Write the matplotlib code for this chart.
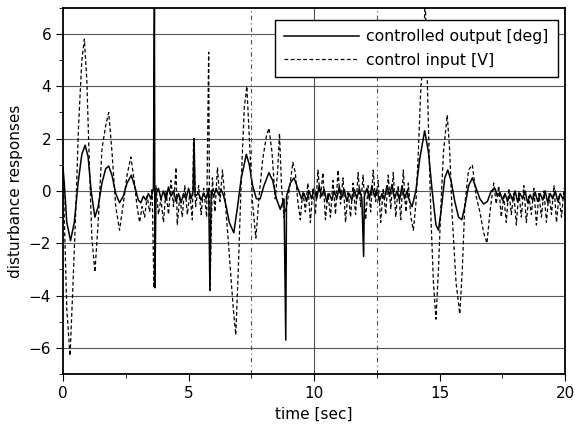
import numpy as np
import matplotlib
matplotlib.use("Agg")
import matplotlib.pyplot as plt
from matplotlib.ticker import MultipleLocator

# --- data ---
# controlled output [deg] (solid)
out_t = [0.0, 0.05, 0.15, 0.3, 0.45, 0.6, 0.75, 0.88, 1.0, 1.12, 1.27, 1.4, 1.55, 1.7, 1.82,
         1.95, 2.1, 2.25, 2.4, 2.55, 2.72, 2.85, 3.0, 3.1, 3.2, 3.3, 3.4, 3.5, 3.6, 3.64,
         3.66, 3.7, 3.8, 3.9, 4.0, 4.1, 4.2, 4.3, 4.4, 4.5, 4.6, 4.7, 4.8, 4.9, 5.0,
         5.1, 5.18, 5.22, 5.26, 5.4, 5.5, 5.6, 5.7, 5.8, 5.85, 5.9, 6.0, 6.1, 6.2, 6.3,
         6.4, 6.5, 6.62, 6.8, 6.95, 7.1, 7.3, 7.42, 7.55, 7.7, 7.85, 8.0, 8.2, 8.35, 8.5,
         8.65, 8.8, 8.87, 8.9, 9.05, 9.2, 9.35, 9.5, 9.6, 9.7, 9.8, 9.9, 10.0, 10.1, 10.2,
         10.3, 10.4, 10.5, 10.6, 10.7, 10.8, 10.9, 11.0, 11.1, 11.2, 11.3, 11.4, 11.5, 11.6, 11.7,
         11.8, 11.9, 11.97, 12.0, 12.1, 12.2, 12.3, 12.4, 12.5, 12.6, 12.7, 12.8, 12.9, 13.0, 13.1,
         13.2, 13.3, 13.4, 13.5, 13.6, 13.7, 13.8, 13.9, 14.05, 14.2, 14.4, 14.55, 14.7, 14.85, 14.95,
         15.05, 15.2, 15.32, 15.45, 15.6, 15.75, 15.88, 16.0, 16.15, 16.3, 16.45, 16.6, 16.75, 16.9, 17.05,
         17.2, 17.3, 17.4, 17.5, 17.6, 17.7, 17.8, 17.9, 18.0, 18.1, 18.2, 18.3, 18.4, 18.5, 18.6,
         18.7, 18.8, 18.9, 19.0, 19.1, 19.2, 19.3, 19.4, 19.5, 19.6, 19.7, 19.8, 19.9, 20.0]
out_y = [0.9, 0.3, -1.2, -1.9, -1.2, 0.3, 1.4, 1.75, 1.3, 0.0, -1.0, -0.6, 0.3, 0.85, 0.95,
         0.6, -0.1, -0.45, -0.2, 0.3, 0.6, 0.2, -0.35, -0.45, -0.2, -0.35, -0.1, -0.3, 0.1, 7.2,
         -3.7, -0.1, 0.1, -0.3, 0.0, -0.35, 0.15, -0.2, 0.0, -0.4, -0.1, -0.45, -0.1, -0.3, 0.1,
         -0.3, 0.0, 2.0, -0.2, -0.1, -0.35, -0.1, -0.3, 0.1, -3.8, 0.0, -0.2, 0.1, -0.15, 0.05,
         -0.2, -0.6, -1.2, -1.6, -0.6, 0.5, 1.4, 1.0, 0.2, -0.3, -0.3, 0.2, 0.7, 0.4, -0.3,
         -0.7, -0.3, -5.7, -0.2, 0.3, 0.5, 0.1, -0.3, -0.1, -0.4, 0.0, -0.3, 0.1, -0.3, 0.2,
         -0.2, 0.05, -0.4, -0.1, -0.35, 0.0, -0.3, 0.15, -0.25, 0.05, -0.4, -0.1, -0.35, 0.05, -0.3,
         0.1, -0.3, -2.5, -0.2, 0.1, -0.3, 0.2, -0.2, 0.05, -0.4, -0.1, -0.3, 0.2, -0.2, 0.25,
         -0.3, 0.0, -0.35, 0.2, -0.3, 0.0, -0.4, -0.6, 0.0, 1.2, 2.3, 1.5, 0.0, -1.3, -1.5,
         -0.8, 0.5, 0.8, 0.4, -0.4, -1.0, -1.1, -0.6, 0.2, 0.5, 0.1, -0.3, -0.5, -0.4, 0.0,
         0.1, -0.2, -0.05, -0.35, -0.1, -0.4, -0.1, -0.35, 0.0, -0.4, -0.1, -0.3, 0.0, -0.45, -0.15,
         -0.35, -0.05, -0.4, -0.1, -0.35, 0.0, -0.45, -0.1, -0.3, 0.0, -0.4, -0.1, -0.3, -0.1]

# control input [V] (dashed)
inp_t = [0.0, 0.08, 0.15, 0.28, 0.38, 0.5, 0.62, 0.75, 0.85, 0.95, 1.05, 1.15, 1.27, 1.4, 1.55,
         1.7, 1.82, 1.95, 2.1, 2.25, 2.4, 2.55, 2.7, 2.82, 2.95, 3.05, 3.15, 3.25, 3.35, 3.45,
         3.55, 3.62, 3.7, 3.8, 3.9, 4.0, 4.1, 4.2, 4.3, 4.4, 4.5, 4.55, 4.65, 4.75, 4.85,
         4.95, 5.05, 5.15, 5.2, 5.28, 5.4, 5.5, 5.6, 5.72, 5.8, 5.85, 5.95, 6.05, 6.15, 6.25,
         6.35, 6.45, 6.55, 6.65, 6.78, 6.88, 6.98, 7.1, 7.22, 7.32, 7.42, 7.55, 7.68, 7.8, 7.95,
         8.1, 8.2, 8.32, 8.45, 8.55, 8.62, 8.7, 8.8, 8.9, 9.05, 9.15, 9.25, 9.35, 9.45, 9.55,
         9.65, 9.75, 9.85, 9.95, 10.05, 10.15, 10.25, 10.35, 10.45, 10.55, 10.65, 10.75, 10.85, 10.95, 11.05,
         11.15, 11.25, 11.35, 11.45, 11.55, 11.65, 11.75, 11.85, 11.95, 12.05, 12.15, 12.25, 12.35, 12.45, 12.55,
         12.65, 12.75, 12.85, 12.95, 13.05, 13.15, 13.25, 13.35, 13.45, 13.55, 13.65, 13.75, 13.85, 13.95, 14.05,
         14.15, 14.25, 14.35, 14.42, 14.55, 14.65, 14.75, 14.85, 14.95, 15.05, 15.15, 15.3, 15.4, 15.5, 15.65,
         15.8, 15.9, 16.0, 16.15, 16.3, 16.45, 16.6, 16.75, 16.88, 17.0, 17.15, 17.25, 17.35, 17.45, 17.55,
         17.65, 17.75, 17.85, 17.95, 18.05, 18.15, 18.25, 18.35, 18.45, 18.55, 18.65, 18.75, 18.85, 18.95, 19.05,
         19.15, 19.25, 19.35, 19.45, 19.55, 19.65, 19.75, 19.85, 19.95]
inp_y = [0.8, -2.0, -4.5, -6.3, -4.0, -1.0, 2.5, 5.0, 5.8, 4.2, 1.0, -1.8, -3.1, -1.2, 1.6,
         2.5, 3.0, 1.5, -0.6, -1.5, -0.5, 0.6, 1.3, 0.5, -0.6, -1.2, -0.6, -1.0, -0.2, -0.8,
         0.1, -3.7, 0.2, -0.9, -0.3, -1.2, 0.0, -0.9, 0.4, -0.6, 0.9, -1.3, -0.2, -1.0, 0.2,
         -0.9, -0.1, -1.1, 2.0, -0.6, 0.2, -0.9, 0.1, -1.0, 5.3, -3.8, 0.5, -0.8, 0.9, -0.4,
         0.8, -0.3, -1.5, -2.8, -4.5, -5.5, -3.0, 0.5, 3.2, 4.0, 2.0, -0.5, -1.8, -0.3, 1.2,
         2.1, 2.4, 1.5, -0.3, 0.8, 2.2, 0.2, -1.0, -0.6, 0.3, 1.1, 0.7, -0.4, -1.1, 0.0,
         -0.8, 0.3, -1.2, 0.1, -0.9, 0.8, -0.3, 0.7, -1.1, -0.1, -1.0, 0.4, -0.9, 0.8, -0.5,
         0.5, -1.2, 0.0, -1.0, 0.3, -0.9, 0.7, -0.6, 0.6, -1.1, 0.2, -0.8, 0.8, -0.4, 0.4,
         -1.2, 0.1, -0.9, 0.6, -0.7, 0.7, -1.0, 0.2, -1.1, 0.8, -0.8, 0.3, -1.0, -1.5, -0.5,
         1.5, 4.0, 5.0, 7.5, 2.5, -1.0, -3.5, -4.9, -3.0, -0.5, 1.5, 2.9, 1.5, -1.0, -3.5,
         -4.7, -3.0, -0.5, 0.8, 1.0, -0.2, -0.8, -1.6, -2.0, -0.8, 0.3, -0.5, 0.2, -1.0, -0.2,
         -1.2, 0.1, -0.9, -0.1, -1.3, 0.0, -1.0, 0.2, -1.2, -0.2, -0.9, 0.1, -1.3, -0.1, -1.0,
         0.0, -1.2, -0.1, -0.9, 0.2, -1.2, -0.2, -1.0, 0.1]

labels = ["controlled output [deg]", "control input [V]"]

# --- figure ---
fig = plt.figure(figsize=(5.78, 4.33), dpi=100)
ax = fig.add_axes([0.109, 0.136, 0.869, 0.846])

ax.plot(out_t, out_y, color="black", lw=1.1, label=labels[0])
ax.plot(inp_t, inp_y, color="black", lw=0.9, ls=(0, (3, 2)), label=labels[1])

ax.set_xlim(0, 20)
ax.set_ylim(-7, 7)
ax.xaxis.set_major_locator(MultipleLocator(5))
ax.xaxis.set_minor_locator(MultipleLocator(2.5))
ax.yaxis.set_major_locator(MultipleLocator(2))
ax.yaxis.set_minor_locator(MultipleLocator(1))
ax.tick_params(which="both", direction="out", labelsize=11)
ax.tick_params(which="major", length=5)
ax.tick_params(which="minor", length=3)

# scanned grid: full horizontal lines, a few vertical ones
ax.yaxis.grid(True, color="0.35", lw=0.8)
ax.axvline(10, color="0.3", lw=0.8)
for xv in (7.5, 12.5):
    ax.axvline(xv, color="0.3", lw=0.8, ls=(0, (4, 3, 1, 3)))
ax.set_axisbelow(True)

for s in ax.spines.values():
    s.set_linewidth(1.3)

ax.set_xlabel("time [sec]", fontsize=11)
ax.set_ylabel("disturbance responses", fontsize=11)

leg = ax.legend(loc="upper right", fontsize=11.3, handlelength=4.8, fancybox=False,
                framealpha=1, edgecolor="black", bbox_to_anchor=(0.986, 0.967),
                borderaxespad=0.0, borderpad=0.6, labelspacing=0.55, handletextpad=0.45)
leg.get_frame().set_linewidth(1.0)

fig.savefig("out.png", dpi=100)
